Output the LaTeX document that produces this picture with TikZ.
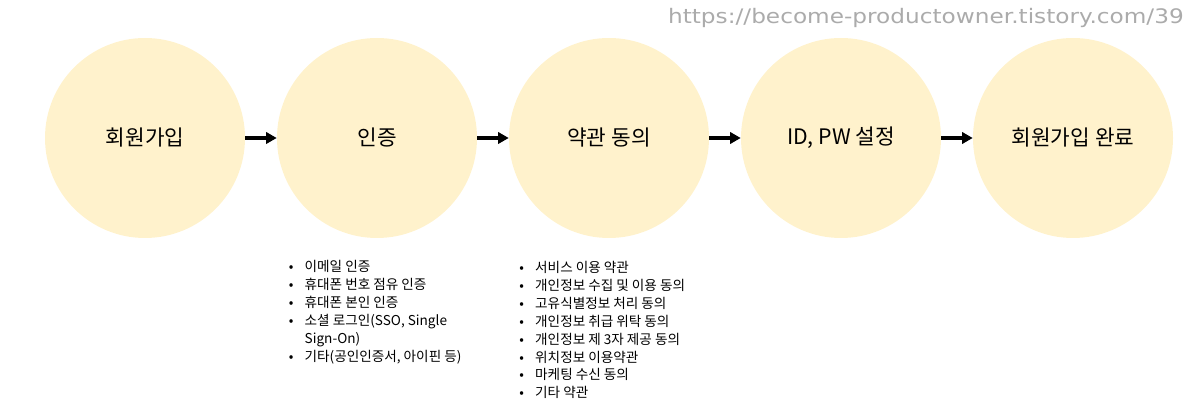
\documentclass[tikz,border=0pt]{standalone}
\usepackage{fontspec}
\setmainfont{Noto Sans CJK KR}
\newfontfamily\urlfont[FakeStretch=1.16]{DejaVu Sans}
\usetikzlibrary{arrows.meta}

\definecolor{stagefill}{HTML}{FFF2CC}
\definecolor{urlgray}{HTML}{ABABAB}

\begin{document}
\begin{tikzpicture}[x=0.75pt, y=-0.75pt, >={Triangle[length=8pt,width=8.5pt]},
    stage/.style={circle, fill=stagefill, minimum size=150pt, inner sep=0pt,
      font=\fontsize{16}{19}\selectfont},
    flow/.style={->, line width=3.6pt},
    notes/.style={anchor=north west, inner sep=0pt, align=left,
      font=\fontsize{10.2}{13.4}\selectfont}]
  \useasboundingbox (0,0) rectangle (1195,416);

  % stages
  \node[stage] (join) at (145,138) {회원가입};
  \node[stage] (auth) at (377,138) {인증};
  \node[stage] (terms) at (609,138) {약관 동의};
  \node[stage] (idpw) at (841,138) {ID, PW 설정};
  \node[stage] (done) at (1073,138) {회원가입 완료};

  \draw[flow] (join) -- (auth);
  \draw[flow] (auth) -- (terms);
  \draw[flow] (terms) -- (idpw);
  \draw[flow] (idpw) -- (done);

  % notes under the stages
  \node[notes] (authnotes) at (288.5,259) {\begin{tabular}{@{}l@{\hspace{8.5pt}}l@{}}
    \textbullet & 이메일 인증\\
    \textbullet & 휴대폰 번호 점유 인증\\
    \textbullet & 휴대폰 본인 인증\\
    \textbullet & 소셜 로그인(SSO, Single\\
                & Sign-On)\\
    \textbullet & 기타(공인인증서, 아이핀 등)
  \end{tabular}};
  \node[notes] (termsnotes) at (519,260) {\begin{tabular}{@{}l@{\hspace{8.5pt}}l@{}}
    \textbullet & 서비스 이용 약관\\
    \textbullet & 개인정보 수집 및 이용 동의\\
    \textbullet & 고유식별정보 처리 동의\\
    \textbullet & 개인정보 취급 위탁 동의\\
    \textbullet & 개인정보 제 3자 제공 동의\\
    \textbullet & 위치정보 이용약관\\
    \textbullet & 마케팅 수신 동의\\
    \textbullet & 기타 약관
  \end{tabular}};

  \node[anchor=east, inner sep=0pt, text=urlgray, font=\urlfont\fontsize{15}{18}\selectfont]
    (url) at (1184,18) {https://become-productowner.tistory.com/39};
\end{tikzpicture}
\end{document}
